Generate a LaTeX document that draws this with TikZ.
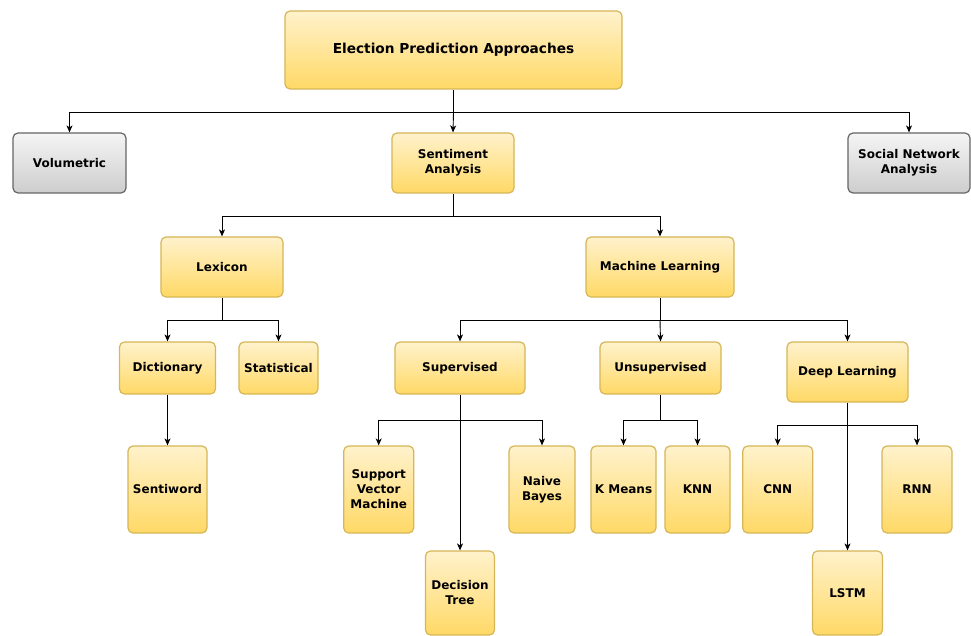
\documentclass[tikz,border=0pt]{standalone}
\usepackage{fontspec}
\setmainfont{DejaVu Sans}
\usetikzlibrary{arrows.meta}
\definecolor{ylTop}{HTML}{FFF2CC}
\definecolor{ylBot}{HTML}{FFD966}
\definecolor{ylLine}{HTML}{D6B656}
\definecolor{gyTop}{HTML}{F5F5F5}
\definecolor{gyBot}{HTML}{CDCDCD}
\definecolor{gyLine}{HTML}{666666}
\tikzset{
	box/.style={draw=ylLine, line width=1.2pt, rounded corners=5pt,
		top color=ylTop, bottom color=ylBot, align=center, inner sep=0pt,
		font=\bfseries\fontsize{12}{15}\selectfont},
	gbox/.style={box, draw=gyLine, top color=gyTop, bottom color=gyBot},
	sz/.style 2 args={minimum width=#1, minimum height=#2},
	arr/.style={-{Stealth[length=7pt,width=6pt,inset=2pt]}, line width=0.9pt},
}
\begin{document}
\begin{tikzpicture}[x=1pt,y=-1pt]
	\useasboundingbox (0,0) rectangle (971,636);
	
	%Tầng 1
	\node[box,sz={337pt}{78pt},font=\bfseries\fontsize{13.7}{16}\selectfont] (epa) at (453.5,50) {Election Prediction Approaches};
	\node[gbox,sz={113pt}{60pt}] (vol) at (69.5,163) {Volumetric};
	\node[box,sz={122pt}{60pt}] (sent) at (453,163) {Sentiment\\Analysis};
	\node[gbox,sz={122pt}{60pt}] (sna) at (909,163) {Social Network\\Analysis};
	\coordinate (b1) at (453.5,112);
	\draw[line width=0.9pt] (epa.south) -- (b1);
	\draw[arr] (b1) -| (vol.north);
	\draw[arr] (b1) -| (sna.north);
	\draw[arr] (b1) -- (sent.north);
	
	%Tầng 2
	\node[box,sz={122pt}{60pt}] (lex) at (222,267) {Lexicon};
	\node[box,sz={148pt}{60pt}] (ml) at (660,267) {Machine Learning};
	\coordinate (b2) at (453,216);
	\draw[line width=0.9pt] (sent.south) -- (b2);
	\draw[arr] (b2) -| (lex.north);
	\draw[arr] (b2) -| (ml.north);
	
	%---------Lexicon
	\node[box,sz={96pt}{52pt}] (dict) at (167.5,368) {Dictionary};
	\node[box,sz={79pt}{52pt}] (stat) at (278.5,368) {Statistical};
	\node[box,sz={79pt}{87pt}] (sw) at (167.5,489.5) {Sentiword};
	\coordinate (b3) at (222,320);
	\draw[line width=0.9pt] (lex.south) -- (b3);
	\draw[arr] (b3) -| (dict.north);
	\draw[arr] (b3) -| (stat.north);
	\draw[arr] (dict.south) -- (sw.north);
	
	%---------Machine Learning
	\node[box,sz={130pt}{52pt}] (sup) at (460,368) {Supervised};
	\node[box,sz={121pt}{52pt}] (unsup) at (660.5,368) {Unsupervised};
	\node[box,sz={121pt}{60pt}] (dl) at (847.5,372) {Deep Learning};
	\coordinate (b4) at (660,320);
	\draw[line width=0.9pt] (ml.south) -- (b4);
	\draw[arr] (b4) -| (sup.north);
	\draw[arr] (b4) -| (dl.north);
	\draw[arr] (b4) -- (unsup.north);
	
	%Supervised
	\node[box,sz={70pt}{87pt}] (svm) at (378.7,489.5) {Support\\Vector\\Machine};
	\node[box,sz={66pt}{87pt}] (nb) at (542,489.5) {Naive\\Bayes};
	\node[box,sz={69pt}{84pt}] (dt) at (460,593) {Decision\\Tree};
	\coordinate (b5) at (460,420);
	\draw[line width=0.9pt] (sup.south) -- (b5);
	\draw[arr] (b5) -| (svm.north);
	\draw[arr] (b5) -| (nb.north);
	\draw[arr] (b5) -- (dt.north);
	
	%Unsupervised
	\node[box,sz={65pt}{87pt}] (km) at (623.5,489.5) {K Means};
	\node[box,sz={65pt}{87pt}] (knn) at (697.5,489.5) {KNN};
	\coordinate (b6) at (660.5,420);
	\draw[line width=0.9pt] (unsup.south) -- (b6);
	\draw[arr] (b6) -| (km.north);
	\draw[arr] (b6) -| (knn.north);
	
	%Deep Learning
	\node[box,sz={70pt}{87pt}] (cnn) at (777.7,489.5) {CNN};
	\node[box,sz={70pt}{87pt}] (rnn) at (917,489.5) {RNN};
	\node[box,sz={70pt}{84pt}] (lstm) at (847.5,593) {LSTM};
	\coordinate (b7) at (847.5,425);
	\draw[line width=0.9pt] (dl.south) -- (b7);
	\draw[arr] (b7) -| (cnn.north);
	\draw[arr] (b7) -| (rnn.north);
	\draw[arr] (b7) -- (lstm.north);
\end{tikzpicture}
\end{document}
